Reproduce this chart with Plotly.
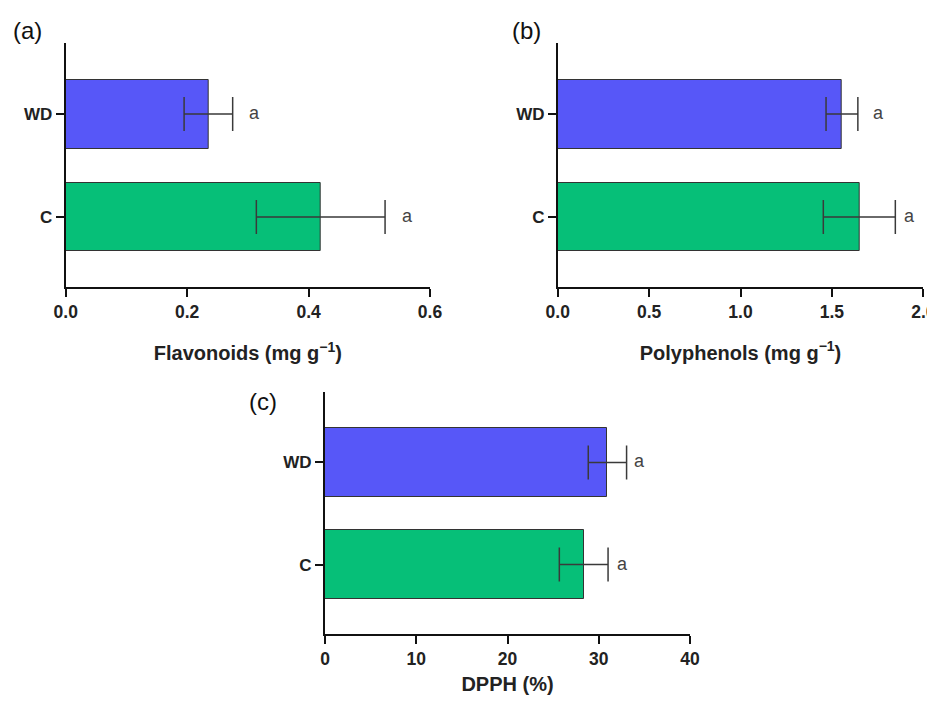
import plotly.graph_objects as go

# ---------------- data ----------------
categories = ["C", "WD"]
flavonoids_mean = [0.42, 0.235]
flavonoids_sd = [0.106, 0.040]
polyphenols_mean = [1.65, 1.555]
polyphenols_sd = [0.197, 0.087]
dpph_mean = [28.35, 30.95]
dpph_sd = [2.67, 2.10]
letters = ["a", "a"]
panel_labels = ["(a)", "(b)", "(c)"]
x_titles = ["Flavonoids (mg g<sup>−1</sup>)", "Polyphenols (mg g<sup>−1</sup>)", "DPPH (%)"]
x_ranges = [[0, 0.6], [0, 2.0], [0, 40]]
x_dticks = [0.2, 0.5, 10]
x_formats = [".1f", ".1f", "d"]

# ---------------- style ----------------
PAGE_OFF = 8                      # default body margin of the html page
W, H = 935 - PAGE_OFF, 703 - 2 * PAGE_OFF
FONT = "Liberation Sans, Arial, Helvetica, sans-serif"
bar_colors = ["#06BF78", "#5757F8"]  # C, WD
err_color = "#3a3a3a"
axis_color = "#111111"

def px_x(p):
    return (p - PAGE_OFF) / W

def px_y(p):
    return 1 - (p - PAGE_OFF) / H

# panel geometry in screen pixels: (x0, x1, ytop, ybottom)
panels = [
    (65.7, 430.0, 43, 287),
    (557.7, 923.3, 43, 287),
    (325.0, 690.0, 392, 634),
]
axis_widths = [2, 1.5, 2]
letter_gaps = [[15, 14], [7, 13], [7, 5]]  # per panel, per category (C, WD)
label_pos = [(27, 30), (526, 30), (263, 401)]
title_standoff = [25, 25, 17]

means = [flavonoids_mean, polyphenols_mean, dpph_mean]
sds = [flavonoids_sd, polyphenols_sd, dpph_sd]

fig = go.Figure()
layout = dict(
    width=W, height=H,
    margin=dict(l=0, r=0, t=0, b=0, autoexpand=False),
    paper_bgcolor="white", plot_bgcolor="white",
    showlegend=False,
    font=dict(family=FONT, color="#222222"),
    bargap=0,
)
annotations = []

for i in range(3):
    sfx = "" if i == 0 else str(i + 1)
    xa, ya = "x" + sfx, "y" + sfx
    fig.add_trace(go.Bar(
        y=categories, x=means[i], orientation="h",
        xaxis=xa, yaxis=ya,
        width=0.67,
        marker=dict(color=bar_colors, line=dict(color="#333333", width=1)),
        error_x=dict(type="data", array=sds[i], symmetric=True,
                     color=err_color, thickness=1.5, width=17),
        hoverinfo="x+y",
    ))
    x0, x1, yt, yb = panels[i]
    layout["xaxis" + sfx] = dict(
        domain=[px_x(x0), px_x(x1)], anchor=ya, automargin=False,
        range=x_ranges[i], dtick=x_dticks[i], tick0=0, tickformat=x_formats[i],
        showline=True, linecolor=axis_color, linewidth=axis_widths[i],
        ticks="outside", ticklen=8, tickwidth=axis_widths[i], tickcolor=axis_color,
        showgrid=False, zeroline=False, ticklabeloverflow="allow",
        tickfont=dict(family=FONT, size=17.5, color="#222222", weight="bold"),
        title=dict(text=x_titles[i], standoff=title_standoff[i],
                   font=dict(family=FONT, size=20, color="#222222", weight="bold")),
    )
    layout["yaxis" + sfx] = dict(
        domain=[px_y(yb), px_y(yt)], anchor=xa, automargin=False,
        type="category", range=[-0.68, 1.69],
        showline=True, linecolor=axis_color, linewidth=axis_widths[i],
        ticks="outside", ticklen=8, tickwidth=axis_widths[i], tickcolor=axis_color,
        showgrid=False, zeroline=False,
        tickfont=dict(family=FONT, size=17, color="#222222", weight="bold"),
    )
    for j, cat in enumerate(categories):
        annotations.append(dict(
            xref=xa, yref=ya, x=means[i][j] + sds[i][j], y=cat,
            text=letters[j], showarrow=False, xanchor="left", yanchor="middle",
            xshift=letter_gaps[i][j], yshift=1,
            font=dict(family=FONT, size=18, color="#444444"),
        ))
    lx, ly = label_pos[i]
    annotations.append(dict(
        xref="paper", yref="paper", x=px_x(lx), y=px_y(ly),
        text=panel_labels[i], showarrow=False, xanchor="center", yanchor="middle",
        font=dict(family=FONT, size=24, color="#111111"),
    ))

layout["annotations"] = annotations
fig.update_layout(**layout)
fig.write_html("out.html")
